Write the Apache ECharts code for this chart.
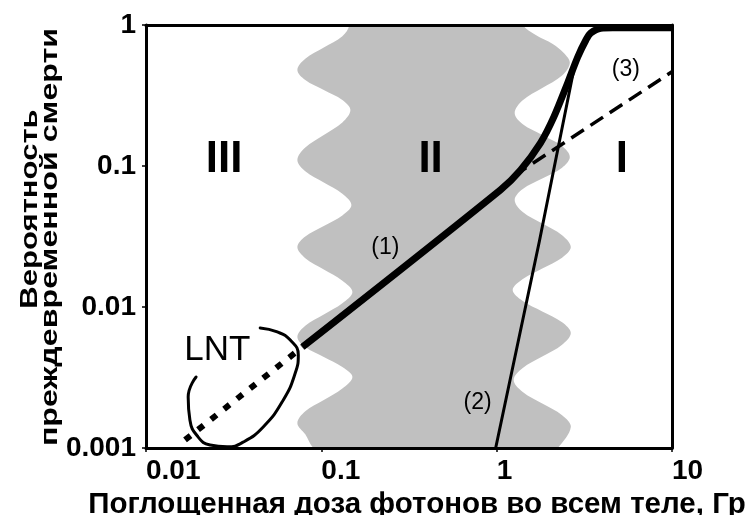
<!DOCTYPE html>
<html><head><meta charset="utf-8">
<script src="https://cdn.jsdelivr.net/npm/echarts@6/dist/echarts.min.js"></script>
<style>html,body{margin:0;padding:0;background:#fff}#c{width:753px;height:515px}</style>
</head><body><div id="c"></div>
<script>
// ---- tick labels ----
const xTickLabels = ['0.01', '0.1', '1', '10'];
const yTickLabels = ['0.001', '0.01', '0.1', '1'];

// ---- grey band (region II): left edge, top -> bottom (dose [Gy], probability) ----
const bandLeftDose = [0.1445, 0.1445, 0.1318, 0.1033, 0.0810, 0.0730, 0.0810, 0.1033, 0.1318, 0.1465,
  0.1318, 0.1033, 0.0810, 0.0730, 0.0810, 0.1033, 0.1318, 0.1484, 0.1318, 0.1033, 0.0810, 0.0730,
  0.0810, 0.1033, 0.1318, 0.1504, 0.1318, 0.1033, 0.0810, 0.0730, 0.0810, 0.1033, 0.1318, 0.1504,
  0.1318, 0.1033, 0.0810, 0.0730, 0.0810, 0.0900, 0.1284];
const bandLeftProb = [1.386, 1.0, 0.832, 0.692, 0.576, 0.4796, 0.407, 0.346, 0.294, 0.2495,
  0.2035, 0.166, 0.1353, 0.1103, 0.0918, 0.0764, 0.0636, 0.0529, 0.0446, 0.0375, 0.0316, 0.0266,
  0.0222, 0.01845, 0.01535, 0.01278, 0.01063, 0.00885, 0.00736, 0.00613, 0.00520, 0.00442, 0.00375, 0.00319,
  0.00264, 0.00219, 0.00182, 0.00150, 0.00125, 0.001, 0.000698];
// ---- grey band: right edge, bottom -> top ----
const bandRightDose = [1.671, 2.232, 2.648, 2.361, 1.820, 1.403, 1.250, 1.403, 1.820, 2.361, 2.648,
  2.361, 1.820, 1.403, 1.234, 1.403, 1.820, 2.361, 2.648, 2.361, 1.820, 1.403, 1.267,
  1.403, 1.820, 2.361, 2.613, 2.361, 1.820, 1.403, 1.267, 1.403, 1.820, 2.361, 2.613,
  2.415, 2.089, 1.671, 1.408, 1.284];
const bandRightProb = [0.000698, 0.001, 0.00141, 0.00171, 0.00207, 0.00251, 0.00304, 0.00368, 0.00445, 0.00540, 0.00654,
  0.00779, 0.00929, 0.01107, 0.01320, 0.01573, 0.01875, 0.02235, 0.0266, 0.0323, 0.0391, 0.0474, 0.0574,
  0.0684, 0.0815, 0.0972, 0.1158, 0.1386, 0.166, 0.1986, 0.2376, 0.2914, 0.3573, 0.4384, 0.538,
  0.633, 0.733, 0.849, 1.0, 1.386];

// ---- curve (1): thick solid ----
const curve1Dose = [0.078, 1.05, 1.37, 1.78, 2.12, 2.54, 2.90, 3.23, 3.44, 3.93, 4.6, 10];
const curve1Prob = [0.0052, 0.0676, 0.0937, 0.146, 0.223, 0.388, 0.593, 0.783, 0.878, 0.95, 0.955, 0.955];
// ---- LNT extrapolation (dotted) ----
const lntDose = [0.0167, 0.078];
const lntProb = [0.00114, 0.0052];
// ---- curve (2): thin steep line ----
const curve2Dose = [0.987, 1.75, 2.86];
const curve2Prob = [0.001, 0.029, 0.61];
// ---- curve (3): dashed ----
const curve3Dose = [1.25, 10];
const curve3Prob = [0.085, 0.466];
// ---- LNT ellipse ----
const ellipseDose = [0.0193, 0.0174, 0.0178, 0.0198, 0.0232, 0.0290, 0.0358, 0.0466, 0.0607, 0.0710, 0.0739, 0.0665, 0.0561, 0.0448];
const ellipseProb = [0.00319, 0.0023, 0.00158, 0.00120, 0.00105, 0.00102, 0.00110, 0.00141, 0.00219, 0.00340, 0.00457, 0.00583, 0.00665, 0.00710];

// ---- annotations ----
const annoText = ['III', 'II', 'I', '(1)', '(2)', '(3)', 'LNT'];
const annoDose = [0.0279, 0.42, 5.18, 0.232, 0.778, 5.46, 0.0255];
const annoProb = [0.110, 0.110, 0.110, 0.0262, 0.00209, 0.48, 0.00495];

// ---- axis titles ----
const xTitle = 'Поглощенная доза фотонов во всем теле, Гр';
const yTitleLines = ['Вероятность', 'преждевременной смерти'];

const FONT = '"Liberation Sans", Arial, sans-serif';
const zip = (a, b) => a.map((v, i) => [v, b[i]]);
const bandPoly = zip(bandLeftDose, bandLeftProb).concat(zip(bandRightDose, bandRightProb));

const annoStyle = {
  'III': {fontSize: 44, fontWeight: 'bold'},
  'II':  {fontSize: 44, fontWeight: 'bold'},
  'I':   {fontSize: 44, fontWeight: 'bold'},
  '(1)': {fontSize: 23, fontWeight: 'normal'},
  '(2)': {fontSize: 23, fontWeight: 'normal'},
  '(3)': {fontSize: 23, fontWeight: 'normal'},
  'LNT': {fontSize: 35, fontWeight: 'normal'}
};

function pickLabel(list, v) {
  const t = list.find(s => Math.abs(Math.log10(parseFloat(s)) - Math.log10(v)) < 0.01);
  return t || '';
}

const chart = echarts.init(document.getElementById('c'), null, {renderer: 'canvas'});
const axisLineStyle = {color: '#000', width: 3};
const yTitleStyle = {fill: '#000', font: 'bold 23px ' + FONT, align: 'center', verticalAlign: 'middle'};
const option = {
  animation: false,
  backgroundColor: '#fff',
  grid: {left: 146, right: 81, top: 25, bottom: 67, containLabel: false, outerBoundsMode: 'none'},
  xAxis: [{
    type: 'log', logBase: 10, min: 0.01, max: 10, z: 10,
    axisLine: {show: true, lineStyle: axisLineStyle},
    axisTick: {show: true, length: 4, lineStyle: {color: '#000', width: 1.5}},
    minorTick: {show: false}, splitLine: {show: false},
    axisLabel: {color: '#000', fontFamily: FONT, fontSize: 28, fontWeight: 'bold', margin: 9, align: 'left',
      formatter: v => pickLabel(xTickLabels, v)},
    name: xTitle,
    nameLocation: 'middle', nameGap: 38,
    nameTextStyle: {color: '#000', fontFamily: FONT, fontSize: 29.5, fontWeight: 'bold', padding: [0, 0, 0, 16]}
  }, {
    type: 'log', logBase: 10, min: 0.01, max: 10, position: 'top', z: 10,
    axisLine: {show: true, lineStyle: axisLineStyle},
    axisTick: {show: false}, axisLabel: {show: false}, splitLine: {show: false}
  }],
  yAxis: [{
    type: 'log', logBase: 10, min: 0.001, max: 1, z: 10,
    axisLine: {show: true, lineStyle: axisLineStyle},
    axisTick: {show: true, length: 4, lineStyle: {color: '#000', width: 1.5}},
    minorTick: {show: false}, splitLine: {show: false},
    axisLabel: {color: '#000', fontFamily: FONT, fontSize: 28, fontWeight: 'bold', margin: 10,
      formatter: v => pickLabel(yTickLabels, v)}
  }, {
    type: 'log', logBase: 10, min: 0.001, max: 1, position: 'right', z: 10,
    axisLine: {show: true, lineStyle: axisLineStyle},
    axisTick: {show: false}, axisLabel: {show: false}, splitLine: {show: false}
  }],
  graphic: [{
    type: 'text', x: 31, y: 209, rotation: Math.PI / 2, scaleX: 1.35, z: 100,
    style: Object.assign({text: yTitleLines[0]}, yTitleStyle)
  }, {
    type: 'text', x: 51, y: 237, rotation: Math.PI / 2, scaleX: 1.4, z: 100,
    style: Object.assign({text: yTitleLines[1]}, yTitleStyle)
  }],
  series: [
    {
      type: 'custom', coordinateSystem: 'cartesian2d', z: 1, silent: true,
      data: bandPoly, encode: {x: 0, y: 1},
      renderItem: function (params, api) {
        if (params.dataIndex !== 0) return;
        const pts = bandPoly.map(p => api.coord(p));
        const cs = params.coordSys;
        return {
          type: 'polygon',
          shape: {points: pts, smooth: 0.35},
          style: {fill: '#c0c0c0', stroke: null},
          clipPath: {type: 'rect', shape: {x: cs.x, y: cs.y, width: cs.width, height: cs.height}}
        };
      }
    },
    {
      type: 'line', data: zip(ellipseDose, ellipseProb), symbol: 'none', smooth: 0.5, z: 3, silent: true,
      clip: false,
      lineStyle: {color: '#000', width: 3, cap: 'round'}
    },
    {
      type: 'line', data: zip(lntDose, lntProb), symbol: 'none', z: 3, silent: true,
      lineStyle: {color: '#000', width: 6, type: [7, 9.6], cap: 'butt'}
    },
    {
      type: 'line', data: zip(curve3Dose, curve3Prob), symbol: 'none', z: 3, silent: true,
      lineStyle: {color: '#000', width: 3.5, type: [15, 8]}
    },
    {
      type: 'line', data: zip(curve2Dose, curve2Prob), symbol: 'none', z: 3, silent: true,
      lineStyle: {color: '#000', width: 3}
    },
    {
      type: 'line', data: zip(curve1Dose, curve1Prob), symbol: 'none', smooth: 0.3, z: 4, silent: true,
      clip: false,
      lineStyle: {color: '#000', width: 7, cap: 'butt', join: 'round'}
    },
    {
      type: 'scatter', z: 6, silent: true, symbolSize: 0,
      itemStyle: {color: '#000', opacity: 1},
      label: {show: true, position: 'inside', color: '#000', opacity: 1, fontFamily: FONT,
        textBorderWidth: 0, textShadowBlur: 0},
      data: annoText.map((t, i) => ({
        value: [annoDose[i], annoProb[i]],
        label: Object.assign({formatter: t}, annoStyle[t])
      }))
    }
  ]
};
chart.setOption(option);
</script></body></html>
